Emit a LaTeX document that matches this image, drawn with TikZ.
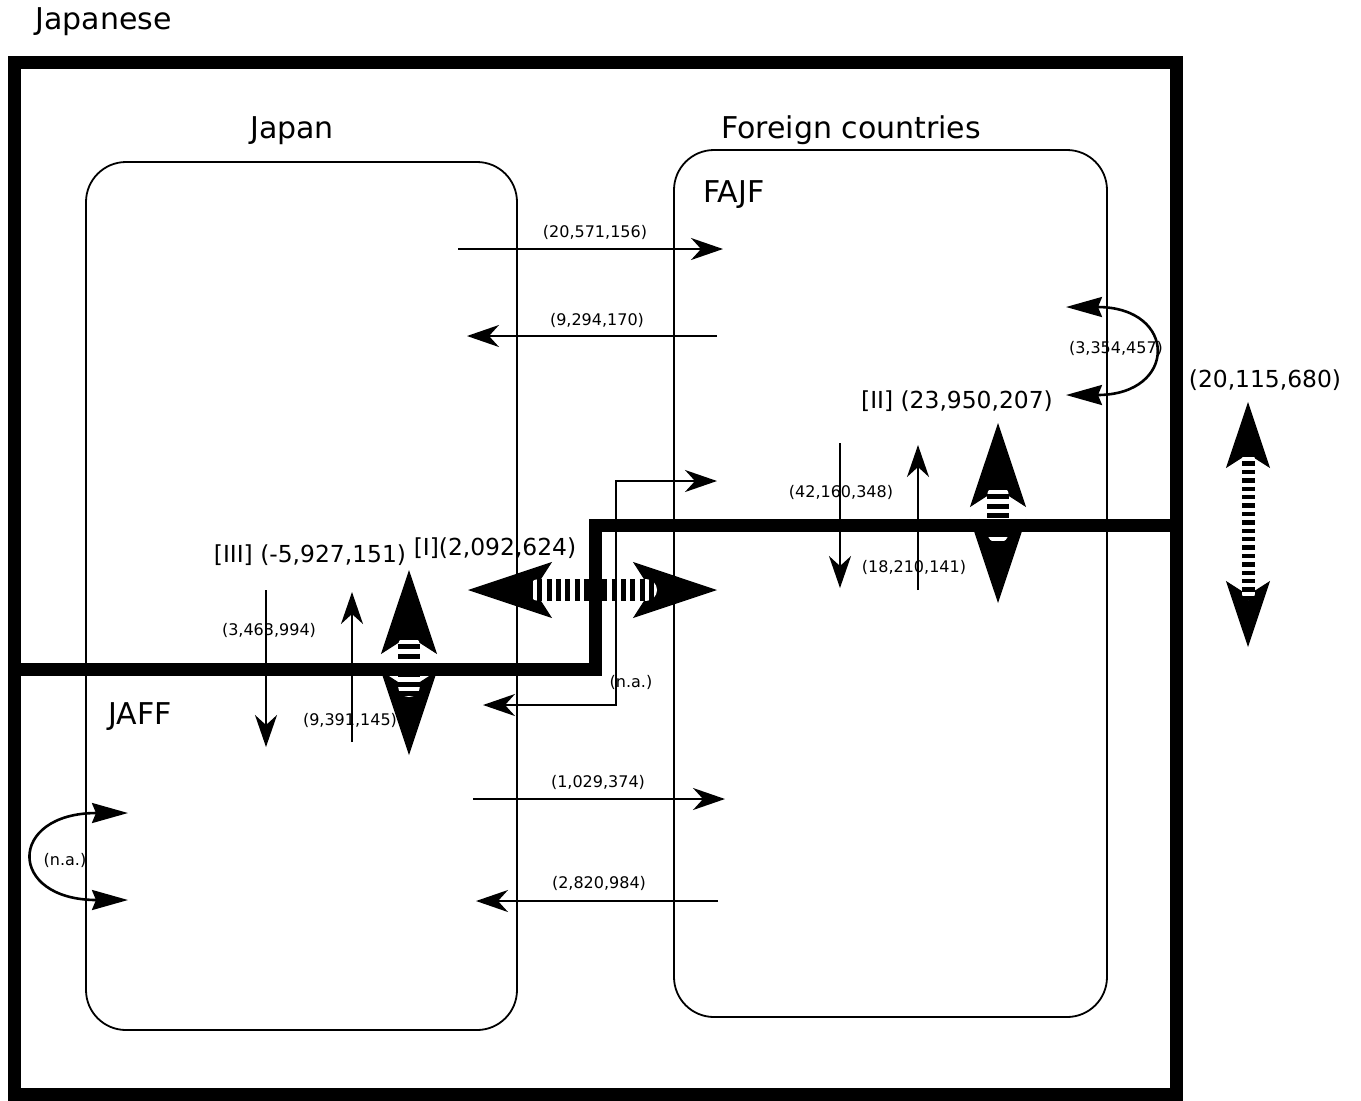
\documentclass[tikz,border=0pt]{standalone}
\usepackage{fontspec}
\setmainfont{DejaVu Sans}
\usetikzlibrary{arrows.meta}

\tikzset{
  region/.style={line width=0.9pt, rounded corners=20pt},
  thickframe/.style={line width=6.5pt},
  flow/.style={line width=1pt},
  selfflow/.style={line width=1.3pt, arrows={Stealth[length=18pt,width=10pt,inset=2pt]-Stealth[length=18pt,width=10pt,inset=2pt]}},
  heading/.style={font=\fontsize{15}{18}\selectfont, inner sep=0pt},
  total/.style={font=\fontsize{11.7}{14}\selectfont, inner sep=0pt},
  amount/.style={font=\fontsize{8}{10}\selectfont, inner sep=0pt},
  bighead/.style={white, line width=0.5pt, arrows={Stealth[color=black,length=42pt,width=28pt,inset=9pt]-Stealth[color=black,length=42pt,width=28pt,inset=9pt]}},
  outhead/.style={white, line width=0.5pt, arrows={Stealth[color=black,length=33pt,width=22pt,inset=7pt]-Stealth[color=black,length=33pt,width=22pt,inset=7pt]}},
  stripebase/.style={white, line width=11pt, line cap=round, shorten <=5.5pt, shorten >=5.5pt},
  stripes/.style={line width=11pt, dash pattern=on 2.5pt off 2.15pt}
}

\begin{document}
\begin{tikzpicture}[x=0.5pt, y=-0.5pt, >={Stealth[length=16pt,width=11pt,inset=5pt]}]
\useasboundingbox (0,0) rectangle (1361,1100);

% the two regions
\draw[region] (86,162) rectangle (517,1030);
\draw[region] (674,150) rectangle (1107,1017);

\node[heading, anchor=base west] (japanese) at (35,29) {Japanese};
\node[heading, anchor=base] (japan) at (292,138) {Japan};
\node[heading, anchor=base] (foreign) at (851,138) {Foreign countries};
\node[heading, anchor=base west] (fajf) at (703,202) {FAJF};
\node[heading, anchor=base west] (jaff) at (108,724) {JAFF};

% big two-way flows
\coordinate (bigIa) at (468,590);
\coordinate (bigIb) at (717,590);
\draw[bighead] (bigIa) -- (bigIb);
\draw[stripebase] (528,590) -- (657,590);
\draw[stripes] (528,590) -- (657,590);

\coordinate (bigIIa) at (998,423);
\coordinate (bigIIb) at (998,603);
\draw[bighead] (bigIIa) -- (bigIIb);
\draw[stripebase] (998,485) -- (998,543);
\draw[stripes] (998,485) -- (998,543);

\coordinate (bigIIIa) at (409,570);
\coordinate (bigIIIb) at (409,755);
\draw[bighead] (bigIIIa) -- (bigIIIb);
\draw[stripebase] (409,635) -- (409,697);
\draw[stripes] (409,635) -- (409,697);

\coordinate (bigAlla) at (1248,402);
\coordinate (bigAllb) at (1248,647);
\draw[outhead] (bigAlla) -- (bigAllb);
\draw[stripebase, line width=6.5pt, shorten <=3.25pt, shorten >=3.25pt] (1248,453) -- (1248,600);
\draw[stripes, line width=6.5pt, dash pattern=on 2.2pt off 2pt] (1248,453) -- (1248,600);

% flows across the border
\coordinate (fOutA) at (458,249);
\coordinate (fOutB) at (723,249);
\coordinate (fInA) at (717,336);
\coordinate (fInB) at (467,336);
\coordinate (jOutA) at (473,799);
\coordinate (jOutB) at (725,799);
\coordinate (jInA) at (718,901);
\coordinate (jInB) at (476,901);
\draw[flow, ->] (fOutA) -- (fOutB);
\draw[flow, ->] (fInA) -- (fInB);
\draw[flow, ->] (jOutA) -- (jOutB);
\draw[flow, ->] (jInA) -- (jInB);

\coordinate (naA) at (483,705);
\coordinate (naC) at (616,481);
\coordinate (naB) at (717,481);
\draw[flow, <->] (naA) -| (naC) -- (naB);

% flows across the nationality line
\coordinate (jDownA) at (266,590);
\coordinate (jDownB) at (266,747);
\coordinate (jUpA) at (352,742);
\coordinate (jUpB) at (352,592);
\coordinate (fDownA) at (840,443);
\coordinate (fDownB) at (840,588);
\coordinate (fUpA) at (918,590);
\coordinate (fUpB) at (918,445);
\draw[flow, ->] (jDownA) -- (jDownB);
\draw[flow, ->] (jUpA) -- (jUpB);
\draw[flow, ->] (fDownA) -- (fDownB);
\draw[flow, ->] (fUpA) -- (fUpB);

% flows inside one block
\coordinate (fLoopA) at (1066,307);
\coordinate (fLoopB) at (1066,395);
\coordinate (jLoopA) at (128,813);
\coordinate (jLoopB) at (128,900);
\draw[selfflow] (fLoopA) .. controls (1178,307) and (1178,395) .. (fLoopB);
\draw[selfflow] (jLoopA) .. controls (7,813) and (7,900) .. (jLoopB);

% frame and nationality line
\draw[thickframe] (14,62) rectangle (1176,1094);
\draw[thickframe] (14,669) -- (595,669) -- (595,525) -- (1176,525);

\node[total, anchor=base] (totI) at (495,555) {[I](2,092,624)};
\node[total, anchor=base] (totII) at (957,408) {[II] (23,950,207)};
\node[total, anchor=base] (totIII) at (310,562) {[III] (-5,927,151)};
\node[total, anchor=base] (totAll) at (1265,387) {(20,115,680)};

\node[amount, anchor=base] (fOut) at (595,237) {(20,571,156)};
\node[amount, anchor=base] (fIn) at (597,325) {(9,294,170)};
\node[amount, anchor=base] (jOut) at (598,787) {(1,029,374)};
\node[amount, anchor=base] (jIn) at (599,888) {(2,820,984)};
\node[amount, anchor=base] (fLoop) at (1116,353) {(3,354,457)};
\node[amount, anchor=base] (fDown) at (841,497) {(42,160,348)};
\node[amount, anchor=base] (fUp) at (914,572) {(18,210,141)};
\node[amount, anchor=base] (jDown) at (269,635) {(3,463,994)};
\node[amount, anchor=base] (jUp) at (350,725) {(9,391,145)};
\node[amount, anchor=base] (jLoop) at (65,865) {(n.a.)};
\node[amount, anchor=base] (naMid) at (631,687) {(n.a.)};
\end{tikzpicture}
\end{document}
